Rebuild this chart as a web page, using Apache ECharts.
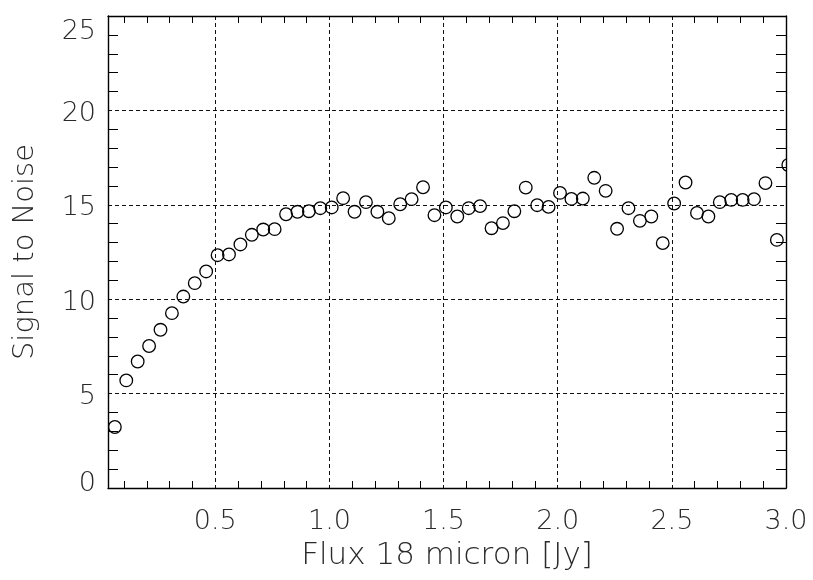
<!DOCTYPE html>
<html>
<head>
<meta charset="utf-8">
<script src="https://cdn.jsdelivr.net/npm/echarts@6/dist/echarts.min.js"></script>
<style>
  html, body { margin: 0; padding: 0; background: #fff; }
  #chart { width: 813px; height: 580px; }
</style>
</head>
<body>
<div id="chart"></div>
<script>
// Measured signal-to-noise against 18 micron flux
const fluxJy = [
  0.06, 0.11, 0.16, 0.21, 0.26, 0.31, 0.36, 0.41, 0.46, 0.51,
  0.56, 0.61, 0.66, 0.71, 0.76, 0.81, 0.86, 0.91, 0.96, 1.01,
  1.06, 1.11, 1.16, 1.21, 1.26, 1.31, 1.36, 1.41, 1.46, 1.51,
  1.56, 1.61, 1.66, 1.71, 1.76, 1.81, 1.86, 1.91, 1.96, 2.01,
  2.06, 2.11, 2.16, 2.21, 2.26, 2.31, 2.36, 2.41, 2.46, 2.51,
  2.56, 2.61, 2.66, 2.71, 2.76, 2.81, 2.86, 2.91, 2.96, 3.01
];
const signalToNoise = [
  3.23, 5.70, 6.70, 7.52, 8.38, 9.26, 10.14, 10.85, 11.47, 12.33,
  12.37, 12.90, 13.41, 13.69, 13.71, 14.50, 14.63, 14.66, 14.82, 14.86,
  15.35, 14.63, 15.14, 14.63, 14.29, 15.03, 15.30, 15.93, 14.45, 14.86,
  14.38, 14.82, 14.93, 13.76, 14.03, 14.66, 15.91, 14.98, 14.89, 15.63,
  15.31, 15.33, 16.43, 15.74, 13.73, 14.82, 14.15, 14.38, 12.97, 15.07,
  16.18, 14.57, 14.38, 15.14, 15.26, 15.26, 15.30, 16.15, 13.14, 17.11
];

// Axis ranges and tick positions
const xRange = [0.03, 3.0];
const xLabelValues = [0.5, 1.0, 1.5, 2.0, 2.5, 3.0];
const xGridValues = [0.5, 1.0, 1.5, 2.0, 2.5];
const xMinorTickValues = [
  0.1, 0.2, 0.3, 0.4, 0.6, 0.7, 0.8, 0.9, 1.1, 1.2, 1.3, 1.4,
  1.6, 1.7, 1.8, 1.9, 2.1, 2.2, 2.3, 2.4, 2.6, 2.7, 2.8, 2.9
];
const yRange = [0, 25];
const yStep = 5;

const FONT = '"DejaVu Sans", sans-serif';
const INK = '#000';
const TEXT = '#2a2a2a';

const chart = echarts.init(document.getElementById('chart'), null, { renderer: 'canvas' });

const grid = { left: 108, top: 16, width: 678, height: 472, containLabel: false };

const baseX = {
  type: 'value', gridIndex: 0, min: xRange[0], max: xRange[1],
  axisLine: { show: true, onZero: false, lineStyle: { color: INK, width: 1.4 } },
  splitLine: { show: false }
};

const baseY = {
  type: 'value', gridIndex: 0, min: yRange[0], max: yRange[1], interval: yStep,
  axisLine: { show: true, onZero: false, lineStyle: { color: INK, width: 1.4 } },
  axisTick: { show: false, inside: true },
  minorTick: { show: true, splitNumber: 5, length: 10, lineStyle: { color: INK, width: 1 } }
};

const labelFont = { fontFamily: FONT, fontWeight: 200, fontSize: 27, color: TEXT };

const option = {
  animation: false,
  backgroundColor: '#fff',
  grid: grid,
  xAxis: [
    Object.assign({}, baseX, {
      position: 'bottom',
      name: 'Flux 18 micron [Jy]',
      nameLocation: 'middle',
      nameGap: 52,
      nameTextStyle: { fontFamily: FONT, fontWeight: 200, fontSize: 31, color: TEXT },
      axisTick: { show: true, inside: true, length: 7, customValues: xMinorTickValues,
                  lineStyle: { color: INK, width: 1 } },
      axisLabel: Object.assign({
        show: true, customValues: xLabelValues, margin: 20,
        formatter: v => Number(v).toFixed(1)
      }, labelFont)
    }),
    Object.assign({}, baseX, {
      position: 'top',
      axisTick: { show: true, inside: true, length: 7, customValues: xMinorTickValues,
                  lineStyle: { color: INK, width: 1 } },
      axisLabel: { show: false }
    }),
    Object.assign({}, baseX, {
      position: 'bottom',
      axisLine: { show: false },
      axisTick: { show: false, customValues: xGridValues },
      axisLabel: { show: false },
      splitLine: { show: true, showMinLine: true, showMaxLine: true,
                   lineStyle: { color: '#111', width: 1, type: [4, 3] } }
    })
  ],
  yAxis: [
    Object.assign({}, baseY, {
      position: 'left',
      name: 'Signal to Noise',
      nameLocation: 'middle',
      nameGap: 68,
      nameTextStyle: { fontFamily: FONT, fontWeight: 200, fontSize: 29, color: TEXT },
      axisLabel: Object.assign({
        show: true, margin: 12,
        formatter: v => v === yRange[1] ? '{top|' + v + '}' : (v === yRange[0] ? '{bot|' + v + '}' : '{n|' + v + '}'),
        rich: {
          top: Object.assign({ padding: [31, 0, 0, 0] }, labelFont),
          bot: Object.assign({ padding: [0, 0, 8, 0] }, labelFont),
          n: Object.assign({ padding: [7, 0, 0, 0] }, labelFont)
        }
      }, labelFont),
      splitLine: { show: true, showMinLine: false, showMaxLine: false,
                   lineStyle: { color: '#111', width: 1, type: [4, 3] } }
    }),
    Object.assign({}, baseY, {
      position: 'right',
      axisLabel: { show: false },
      splitLine: { show: false }
    })
  ],
  series: [
    {
      type: 'custom',
      xAxisIndex: 0,
      yAxisIndex: 0,
      clip: true,
      data: fluxJy.map((x, i) => [x, signalToNoise[i]]),
      renderItem: function (params, api) {
        const p = api.coord([api.value(0), api.value(1)]);
        return {
          type: 'circle',
          shape: { cx: p[0], cy: p[1], r: 6.3 },
          style: { fill: 'none', stroke: INK, lineWidth: 1.3 }
        };
      }
    }
  ]
};

chart.setOption(option);
</script>
</body>
</html>
